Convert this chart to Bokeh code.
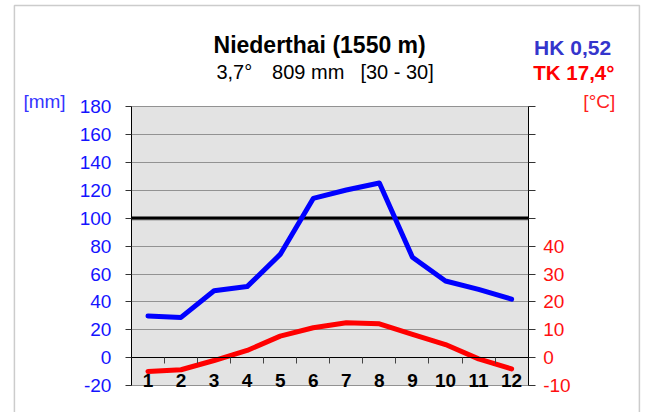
from bokeh.plotting import figure
from bokeh.models import (LinearAxis, Range1d, FixedTicker, Label, BoxAnnotation, Grid)
from bokeh.embed import file_html
from bokeh.resources import INLINE

# ---- data ----
months = [1, 2, 3, 4, 5, 6, 7, 8, 9, 10, 11, 12]
month_labels = ["1", "2", "3", "4", "5", "6", "7", "8", "9", "10", "11", "12"]
precip_mm = [30, 29, 48, 51, 74, 114, 120, 125, 72, 55, 49, 42]
temp_c = [-4.8, -4.2, -0.9, 2.7, 7.8, 10.8, 12.6, 12.2, 8.4, 4.8, -0.3, -3.9]
mm_ticks = [-20, 0, 20, 40, 60, 80, 100, 120, 140, 160, 180]
c_ticks = [-10, 0, 10, 20, 30, 40, 50, 60, 70, 80, 90]
c_labelled = [-10, 0, 10, 20, 30, 40]
title_text = "Niederthai (1550 m)"
subtitle_parts = ["3,7°", "809 mm", "[30 - 30]"]
hk_text = "HK 0,52"
tk_text = "TK 17,4°"
scale_line_mm = 100

FONT = "Liberation Sans"
x_lo, x_hi = months[0] - 0.5, months[-1] + 0.5
mm_lo, mm_hi = mm_ticks[0], mm_ticks[-1]

# whole canvas is the frame; axes are placed at fixed locations
p = figure(width=645, height=412, output_backend="svg", toolbar_location=None,
           x_axis_location=None, y_axis_location=None,
           x_range=Range1d(-3.46, 16.05), y_range=Range1d(-38.93, 255.36),
           min_border=0, min_border_left=0, min_border_right=0,
           min_border_top=0, min_border_bottom=0,
           background_fill_color="white", border_fill_color="white",
           outline_line_color=None)
p.extra_y_ranges = {"temp": Range1d(-38.93 / 2, 255.36 / 2)}

# drop any default grids
p.center = [r for r in p.center if not isinstance(r, Grid)]
p.renderers = [r for r in p.renderers if not isinstance(r, Grid)]

# plot area background
p.add_layout(BoxAnnotation(left=x_lo, right=x_hi, bottom=mm_lo, top=mm_hi,
                           fill_color="#e3e3e3", fill_alpha=1, line_color=None,
                           level="underlay"))

# horizontal grid
if "cross_bounds" in Grid.properties():
    g = Grid(dimension=1, ticker=FixedTicker(ticks=mm_ticks), cross_bounds=(x_lo, x_hi))
    g.grid_line_color = "#404040"
    g.grid_line_dash = "1 1"
    g.grid_line_width = 1
    p.add_layout(g)
else:
    p.segment(x0=[x_lo] * len(mm_ticks), y0=mm_ticks, x1=[x_hi] * len(mm_ticks), y1=mm_ticks,
              line_color="#404040", line_dash="1 1", line_width=1, level="underlay")

# left axis (mm)
la = LinearAxis(fixed_location=x_lo, bounds=(mm_lo, mm_hi), ticker=FixedTicker(ticks=mm_ticks))
la.major_label_overrides = {t: str(t) for t in mm_ticks}
la.minor_tick_line_color = None
la.major_tick_in = 0
la.major_tick_out = 6
la.major_tick_line_color = "#333333"
la.axis_line_color = "black"
la.major_label_standoff = 14
la.major_label_text_font = FONT
la.major_label_text_font_size = "19px"
la.major_label_text_color = "#1414ff"
p.add_layout(la, "left")

# right axis (°C)
ra = LinearAxis(y_range_name="temp", fixed_location=x_hi, bounds=(c_ticks[0], c_ticks[-1]),
                ticker=FixedTicker(ticks=c_ticks))
ra.major_label_overrides = {t: (str(t) if t in c_labelled else "") for t in c_ticks}
ra.minor_tick_line_color = None
ra.major_tick_in = 0
ra.major_tick_out = 7
ra.major_tick_line_color = "#333333"
ra.axis_line_color = "black"
ra.major_label_standoff = 8
ra.major_label_text_font = FONT
ra.major_label_text_font_size = "19px"
ra.major_label_text_color = "#ff1010"
p.add_layout(ra, "right")

# zero line axis with ticks between months
half_ticks = [m + 0.5 for m in months[:-1]]
za = LinearAxis(fixed_location=0, bounds=(x_lo, x_hi), ticker=FixedTicker(ticks=half_ticks))
za.major_label_overrides = {t: "" for t in half_ticks}
za.major_label_text_font_size = "1px"
za.minor_tick_line_color = None
za.major_tick_in = 0
za.major_tick_out = 6
za.major_tick_line_color = "#444444"
za.axis_line_color = "black"
za.axis_line_width = 1.2
p.add_layout(za, "below")

# month label axis
ma = LinearAxis(fixed_location=0, ticker=FixedTicker(ticks=months))
ma.major_label_overrides = {m: l for m, l in zip(months, month_labels)}
ma.axis_line_color = None
ma.major_tick_line_color = None
ma.minor_tick_line_color = None
ma.major_tick_out = 0
ma.major_tick_in = 0
ma.major_label_standoff = 16
ma.major_label_text_font = FONT
ma.major_label_text_font_size = "19px"
ma.major_label_text_font_style = "bold"
ma.major_label_text_color = "black"
p.add_layout(ma, "below")

# 100 mm scale line (with light shadow)
p.segment(x0=[x_lo], y0=[scale_line_mm - 1.0], x1=[x_hi], y1=[scale_line_mm - 1.0],
          line_color="#9a9a9a", line_width=2)
p.segment(x0=[x_lo], y0=[scale_line_mm], x1=[x_hi], y1=[scale_line_mm],
          line_color="black", line_width=3)

# series
p.line(months, precip_mm, line_color="#0000ff", line_width=5,
       line_join="round", line_cap="round")
p.line(months, temp_c, y_range_name="temp", line_color="#ff0000", line_width=5,
       line_join="round", line_cap="round")

# texts
p.add_layout(Label(x=6.193, y=223.7, text=title_text, text_align="center",
                   text_baseline="alphabetic", text_font=FONT, text_font_size="23px",
                   text_font_style="bold", text_color="black"))
for sx, part in zip([3.071, 4.756, 7.427], subtitle_parts):
    p.add_layout(Label(x=sx, y=204.1, text=part, text_align="left",
                       text_baseline="alphabetic", text_font=FONT, text_font_size="20px",
                       text_color="black"))
p.add_layout(Label(x=15.01, y=222.0, text=hk_text, text_align="right",
                   text_baseline="alphabetic", text_font=FONT, text_font_size="21px",
                   text_font_style="bold", text_color="#3535cc"))
p.add_layout(Label(x=15.11, y=204.1, text=tk_text, text_align="right",
                   text_baseline="alphabetic", text_font=FONT, text_font_size="20.5px",
                   text_font_style="bold", text_color="#ff0000"))
p.add_layout(Label(x=-2.767, y=183.5, text="[mm]", text_align="left",
                   text_baseline="middle", text_font=FONT, text_font_size="19px",
                   text_color="#3535ff"))
p.add_layout(Label(x=14.17, y=183.2, text="[°C]", text_align="left",
                   text_baseline="middle", text_font=FONT, text_font_size="19px",
                   text_color="#ff2020"))

# outer border of the chart
p.add_layout(BoxAnnotation(left=-3.039, right=15.866, top=251.8, bottom=-45,
                           fill_alpha=0, line_color="#555555", line_width=1.5))

open("out.html", "w").write(file_html(p, INLINE))
